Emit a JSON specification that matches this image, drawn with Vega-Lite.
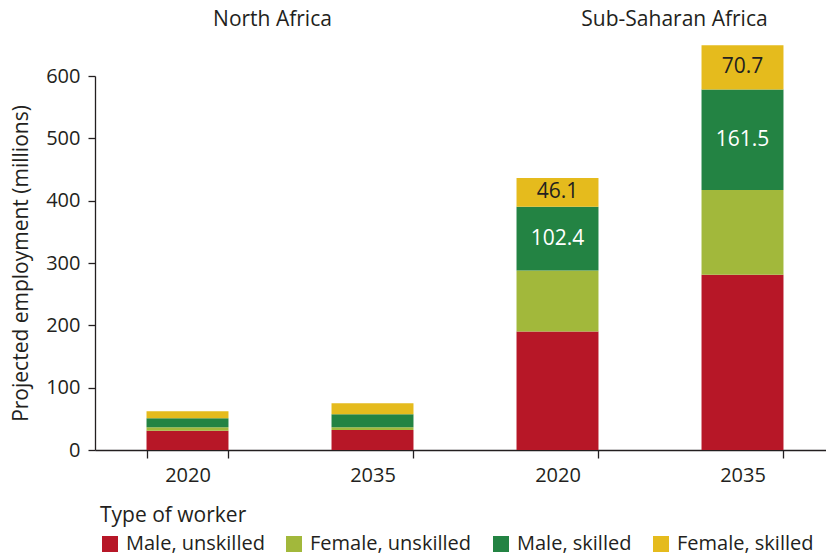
{
  "$schema": "https://vega.github.io/schema/vega-lite/v6.json",
  "autosize": {"type": "none"},
  "padding": {"left": 95, "top": 76, "right": 0, "bottom": 107},
  "width": 740,
  "height": 374,
  "background": "white",
  "config": {"font": "Open Sans", "view": {"stroke": null}},
  "data": {
    "values": [
      {"key": "North Africa|2020", "region": "North Africa", "year": "2020", "type": "Male, unskilled", "sex": "Male", "skill": "unskilled", "value": 31},
      {"key": "North Africa|2020", "region": "North Africa", "year": "2020", "type": "Female, unskilled", "sex": "Female", "skill": "unskilled", "value": 5.5},
      {"key": "North Africa|2020", "region": "North Africa", "year": "2020", "type": "Male, skilled", "sex": "Male", "skill": "skilled", "value": 14.5},
      {"key": "North Africa|2020", "region": "North Africa", "year": "2020", "type": "Female, skilled", "sex": "Female", "skill": "skilled", "value": 11},
      {"key": "North Africa|2035", "region": "North Africa", "year": "2035", "type": "Male, unskilled", "sex": "Male", "skill": "unskilled", "value": 32},
      {"key": "North Africa|2035", "region": "North Africa", "year": "2035", "type": "Female, unskilled", "sex": "Female", "skill": "unskilled", "value": 4.5},
      {"key": "North Africa|2035", "region": "North Africa", "year": "2035", "type": "Male, skilled", "sex": "Male", "skill": "skilled", "value": 21},
      {"key": "North Africa|2035", "region": "North Africa", "year": "2035", "type": "Female, skilled", "sex": "Female", "skill": "skilled", "value": 17.5},
      {"key": "Sub-Saharan Africa|2020", "region": "Sub-Saharan Africa", "year": "2020", "type": "Male, unskilled", "sex": "Male", "skill": "unskilled", "value": 190},
      {"key": "Sub-Saharan Africa|2020", "region": "Sub-Saharan Africa", "year": "2020", "type": "Female, unskilled", "sex": "Female", "skill": "unskilled", "value": 98},
      {"key": "Sub-Saharan Africa|2020", "region": "Sub-Saharan Africa", "year": "2020", "type": "Male, skilled", "sex": "Male", "skill": "skilled", "value": 102.4},
      {"key": "Sub-Saharan Africa|2020", "region": "Sub-Saharan Africa", "year": "2020", "type": "Female, skilled", "sex": "Female", "skill": "skilled", "value": 46.1},
      {"key": "Sub-Saharan Africa|2035", "region": "Sub-Saharan Africa", "year": "2035", "type": "Male, unskilled", "sex": "Male", "skill": "unskilled", "value": 281},
      {"key": "Sub-Saharan Africa|2035", "region": "Sub-Saharan Africa", "year": "2035", "type": "Female, unskilled", "sex": "Female", "skill": "unskilled", "value": 136},
      {"key": "Sub-Saharan Africa|2035", "region": "Sub-Saharan Africa", "year": "2035", "type": "Male, skilled", "sex": "Male", "skill": "skilled", "value": 161.5},
      {"key": "Sub-Saharan Africa|2035", "region": "Sub-Saharan Africa", "year": "2035", "type": "Female, skilled", "sex": "Female", "skill": "skilled", "value": 70.7}
    ]
  },
  "transform": [
    {
      "stack": "value",
      "groupby": ["key"],
      "sort": [{"field": "skill", "order": "descending"}, {"field": "sex", "order": "descending"}],
      "as": ["v0", "v1"]
    },
    {"calculate": "(datum.v0 + datum.v1) / 2", "as": "vmid"}
  ],
  "resolve": {"axis": {"x": "independent"}},
  "layer": [
    {
      "mark": {"type": "bar"},
      "encoding": {
        "x": {
          "field": "key",
          "type": "nominal",
          "sort": null,
          "scale": {"paddingInner": 0.557, "paddingOuter": 0.2785},
          "axis": {
            "title": null,
            "labelExpr": "split(datum.value, '|')[1]",
            "labelAngle": 0,
            "labelFontSize": 20,
            "labelColor": "#231f20",
            "labelPadding": 7,
            "tickBand": "extent",
            "tickSize": 8,
            "tickWidth": 1.3,
            "tickColor": "#231f20",
            "domainColor": "#231f20",
            "domainWidth": 1.3
          }
        },
        "y": {
          "field": "v1",
          "type": "quantitative",
          "scale": {"domain": [0, 600], "nice": false},
          "axis": {
            "title": "Projected employment (millions)",
            "titleFontSize": 21,
            "titleFontWeight": "normal",
            "titleColor": "#231f20",
            "titlePadding": 14,
            "values": [0, 100, 200, 300, 400, 500, 600],
            "labelFontSize": 20,
            "labelColor": "#231f20",
            "labelPadding": 8,
            "tickSize": 7,
            "tickWidth": 1.3,
            "tickColor": "#231f20",
            "domainColor": "#231f20",
            "domainWidth": 1.3,
            "grid": false
          }
        },
        "y2": {"field": "v0"},
        "color": {
          "field": "type",
          "type": "nominal",
          "sort": ["Male, unskilled", "Female, unskilled", "Male, skilled", "Female, skilled"],
          "scale": {
            "domain": ["Male, unskilled", "Female, unskilled", "Male, skilled", "Female, skilled"],
            "range": ["#b71727", "#a2b83b", "#238343", "#e5bb1d"]
          },
          "legend": {
            "orient": "none",
            "legendX": 5,
            "legendY": 429,
            "direction": "horizontal",
            "title": "Type of worker",
            "titleFontSize": 21,
            "titleFontWeight": "normal",
            "titleColor": "#231f20",
            "titlePadding": 8,
            "labelFontSize": 20,
            "labelColor": "#231f20",
            "labelOffset": 6,
            "labelLimit": 400,
            "symbolType": "square",
            "symbolSize": 256,
            "symbolStrokeWidth": 0,
            "symbolOpacity": 1,
            "columnPadding": 19,
            "padding": 0
          }
        }
      }
    },
    {
      "transform": [
        {"filter": "datum.region == 'Sub-Saharan Africa' && (datum.type == 'Male, skilled' || datum.type == 'Female, skilled')"}
      ],
      "mark": {"type": "text", "fontSize": 21, "baseline": "middle", "align": "center"},
      "encoding": {
        "x": {
          "field": "key",
          "type": "nominal",
          "sort": null,
          "axis": {
            "orient": "top",
            "title": null,
            "domain": false,
            "ticks": false,
            "tickSize": 0,
            "labelAngle": 0,
            "labelFontSize": 21,
            "labelColor": "#231f20",
            "labelBaseline": "alphabetic",
            "labelPadding": 51,
            "labelLimit": 400,
            "labelExpr": "datum.value == 'North Africa|2035' ? 'North Africa' : (datum.value == 'Sub-Saharan Africa|2035' ? 'Sub-Saharan Africa' : '')",
            "labelOffset": {"condition": {"test": "datum.value == 'Sub-Saharan Africa|2035'", "value": -68}, "value": -100}
          }
        },
        "y": {"field": "vmid", "type": "quantitative"},
        "text": {"field": "value", "type": "quantitative", "format": ".1f"},
        "color": {
          "condition": {"test": "datum.type == 'Male, skilled'", "value": "white"},
          "value": "#231f20"
        }
      }
    }
  ]
}
